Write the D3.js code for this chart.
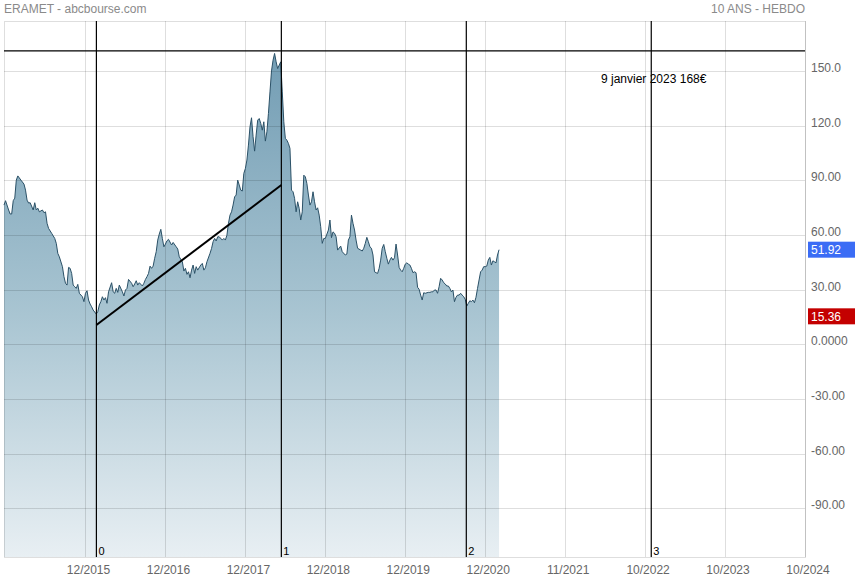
<!DOCTYPE html>
<html><head><meta charset="utf-8">
<script src="https://cdn.jsdelivr.net/npm/d3@7"></script>
<style>body{margin:0;background:#fff}svg{display:block;font-family:"Liberation Sans",Arial,sans-serif}</style>
</head><body><svg id="c" width="855" height="580"></svg>
<script>
// ---- data ----
const title = "ERAMET - abcbourse.com";
const periodLabel = "10 ANS - HEBDO";
const weeks = [0,1,3,4,5,6,7,8,9,11,13,14,15,16,17,19,20,21,22,23,25,26,27,28,29,31,33,34,35,36,38,39,40,41,42,43,44,45,46,47,48,49,51,52,53,54,55,56,57,58,60,61,62,63,64,65,66,67,68,70,71,72,73,74,75,77,78,79,80,81,83,84,85,86,87,88,90,91,92,93,94,95,96,97,98,99,100,101,102,103,104,105,106,107,109,110,112,113,114,116,117,118,119,120,121,122,123,124,125,126,128,129,130,131,132,134,135,136,137,138,139,140,142,143,144,145,146,147,148,149,150,151,152,153,154,155,156,157,158,159,160,161,162,163,164,165,166,167,168,169,170,171,172,173,174,175,176,177,178,179,180,181,182,183,184,185,186,187,188,189,190,191,192,193,194,195,196,197,198,199,200,201,202,203,204,205,206,207,208,209,211,212,213,214,215,216,217,219,220,222,223,224,225,226,227,228,229,230,232,233,234,235,236,237,238,239,240,241,242,243,244,245,246,247,248,249,250,251,252,253,254,255,256,257,258,259,260,261,262,263,264,265,266,267,268,269,270,271,272,273,274,276,277,278,279,280,281,282,283,284,285,286,287,288,289,290,291,292,293,294,295,296,297,298,299,300,301,302,303,304,305,306,307,308,309,310,311,312,313,314,315,316,317,318,319,320,321,322];
const prices = [76.4,78.8,73.7,71.5,71.5,78.8,80.2,90.1,92.4,90.1,87.9,84.6,79.1,77.5,77.7,73.7,77.7,73.7,74.7,72.7,73.7,72.2,72.7,66.4,63.6,60.9,58.1,55.4,49.9,48.0,42.6,37.1,33.5,32.5,42.2,41.7,38.9,32.5,31.6,30.7,32.9,28.0,26.1,23.4,28.0,29.4,24.3,22.1,20.6,18.8,16.6,17.9,21.6,23.4,26.1,24.3,25.6,22.5,28.8,33.8,28.8,28.0,30.7,28.5,32.5,28.8,26.5,29.8,30.7,35.6,33.5,31.6,33.1,34.9,32.5,33.8,32.0,33.5,35.6,37.1,38.9,42.9,41.7,42.9,47.2,50.8,57.2,60.5,63.1,58.1,53.5,55.0,56.8,57.6,54.5,55.9,53.5,52.3,48.0,45.3,40.2,41.7,38.4,39.8,36.5,40.7,43.5,38.9,42.6,40.7,43.5,44.4,40.7,42.0,45.3,49.9,52.6,56.3,58.1,56.7,59.0,59.0,57.2,58.1,57.2,59.9,66.4,70.9,72.7,76.4,80.9,81.9,90.1,87.4,84.6,84.1,93.8,96.5,101.1,109.3,119.3,124.3,113.9,106.0,114.8,123.0,123.9,121.2,117.5,122.1,111.5,116.6,126.7,138.5,150.0,155.9,159.6,155.0,151.3,153.2,155.0,138.5,122.1,113.0,112.0,110.2,107.5,84.6,83.7,80.1,72.7,78.2,74.6,68.2,72.7,92.8,91.9,88.3,81.9,76.4,78.2,83.7,78.2,73.7,74.9,70.9,64.5,55.4,58.1,58.1,62.7,68.2,58.5,61.7,60.9,59.0,51.7,53.9,50.8,49.0,49.5,57.2,59.0,70.9,66.4,62.7,57.2,52.7,51.7,51.2,52.7,55.4,58.7,56.3,53.5,52.7,49.0,39.8,39.3,38.9,41.7,46.2,52.7,54.8,50.8,47.2,44.0,46.2,47.7,46.2,47.5,55.0,49.0,42.2,40.7,39.8,41.7,44.0,44.7,44.0,43.5,41.7,39.3,39.8,39.3,31.3,30.2,27.0,24.3,28.3,28.0,28.5,28.5,28.8,28.8,29.8,29.8,28.0,31.6,36.2,35.3,33.8,33.1,32.0,32.0,30.7,28.8,29.8,23.4,25.8,27.0,27.0,28.0,27.0,26.1,24.7,21.0,22.5,23.9,23.4,24.3,22.8,25.8,30.7,35.3,39.8,40.7,42.6,42.6,42.9,46.2,47.7,43.5,45.8,45.3,44.7,49.0,51.92];
const xTickWeeks = [53,105,157,209,261,313,365,417,469,521];
const xTickLabels = ["12/2015","12/2016","12/2017","12/2018","12/2019","12/2020","11/2021","10/2022","10/2023","10/2024"];
const yTicks = [150,120,90,60,30,0,-30,-60,-90];
const yTickLabels = ["150.0","120.0","90.00","60.00","30.00","0.0000","-30.00","-60.00","-90.00"];
const cycleWeeks = [60.1,180.4,300.7,421.0];
const cycleLabels = ["0","1","2","3"];
const trendWeeks = [60.1,180.4];
const trendValues = [10.6,87.4];
const levelValue = 161;
const levelLabel = "9 janvier 2023 168€";
const lastPrice = 51.92;
const redMarker = 15.36;

// ---- layout ----
const L = 4, R = 805, T = 21, B = 557;
const svg = d3.select("#c");
const x = d3.scaleLinear().domain([0,521]).range([L,R]);
const y = d3.scaleLinear().domain([-116.7,177.4]).range([B,T]);
const data = weeks.map((w,i)=>({w, p: prices[i]}));

const defs = svg.append("defs");
const grad = defs.append("linearGradient").attr("id","fillg")
  .attr("gradientUnits","userSpaceOnUse").attr("x1",0).attr("x2",0).attr("y1",T).attr("y2",B);
grad.append("stop").attr("offset","0").attr("stop-color","#6c98b0");
grad.append("stop").attr("offset","0.55").attr("stop-color","#a9c5d2");
grad.append("stop").attr("offset","1").attr("stop-color","#e8eff3");

// header
svg.append("text").attr("x",4).attr("y",13).attr("font-size",12).attr("fill","#8a8a8a").text(title);
svg.append("text").attr("x",R).attr("y",13).attr("text-anchor","end").attr("font-size",12).attr("fill","#8a8a8a").text(periodLabel);

// area
svg.append("path").datum(data)
  .attr("d", d3.area().x(d=>x(d.w)).y0(B).y1(d=>y(d.p)))
  .attr("fill","url(#fillg)");

// grid
const grid = svg.append("g").attr("stroke","#000").attr("stroke-opacity",0.13).attr("stroke-width",1);
yTicks.forEach(v=>grid.append("line").attr("x1",L).attr("x2",R).attr("y1",Math.round(y(v))+0.5).attr("y2",Math.round(y(v))+0.5));
xTickWeeks.forEach(w=>grid.append("line").attr("x1",Math.round(x(w))+0.5).attr("x2",Math.round(x(w))+0.5).attr("y1",T).attr("y2",B));
grid.append("rect").attr("x",L+0.5).attr("y",T+0.5).attr("width",R-L).attr("height",B-T).attr("fill","none");

// price line
svg.append("path").datum(data)
  .attr("d", d3.line().x(d=>x(d.w)).y(d=>y(d.p)))
  .attr("fill","none").attr("stroke","#2b5167").attr("stroke-width",1);

// horizontal level
svg.append("line").attr("x1",L).attr("x2",R).attr("y1",y(levelValue)).attr("y2",y(levelValue))
  .attr("stroke","#000").attr("stroke-width",1.2);
svg.append("text").attr("x",601).attr("y",83).attr("font-size",12).attr("fill","#000").text(levelLabel);

// cycle lines
cycleWeeks.forEach((w,i)=>{
  svg.append("line").attr("x1",x(w)).attr("x2",x(w)).attr("y1",T).attr("y2",B)
    .attr("stroke","#000").attr("stroke-width",1.2);
  svg.append("text").attr("x",x(w)+2).attr("y",555).attr("font-size",11).attr("fill","#000").text(cycleLabels[i]);
});

// trendline
svg.append("line").attr("x1",x(trendWeeks[0])).attr("y1",y(trendValues[0]))
  .attr("x2",x(trendWeeks[1])).attr("y2",y(trendValues[1]))
  .attr("stroke","#000").attr("stroke-width",2);

// y labels
yTicks.forEach((v,i)=>svg.append("text").attr("x",811).attr("y",y(v)+1).attr("font-size",12)
  .attr("fill","#666").text(yTickLabels[i]));

// x labels
xTickWeeks.forEach((w,i)=>svg.append("text").attr("x",x(w)+3).attr("y",574).attr("text-anchor","middle")
  .attr("font-size",12).attr("fill","#666").text(xTickLabels[i]));

// markers
function marker(v,color){
  const cy = y(v);
  svg.append("rect").attr("x",808).attr("y",cy-8).attr("width",47).attr("height",16).attr("fill",color);
  svg.append("text").attr("x",811).attr("y",cy+4.5).attr("font-size",12).attr("fill","#fff").text(v.toFixed(2));
}
marker(lastPrice,"#3b6cf5");
marker(redMarker,"#c40000");
</script></body></html>
